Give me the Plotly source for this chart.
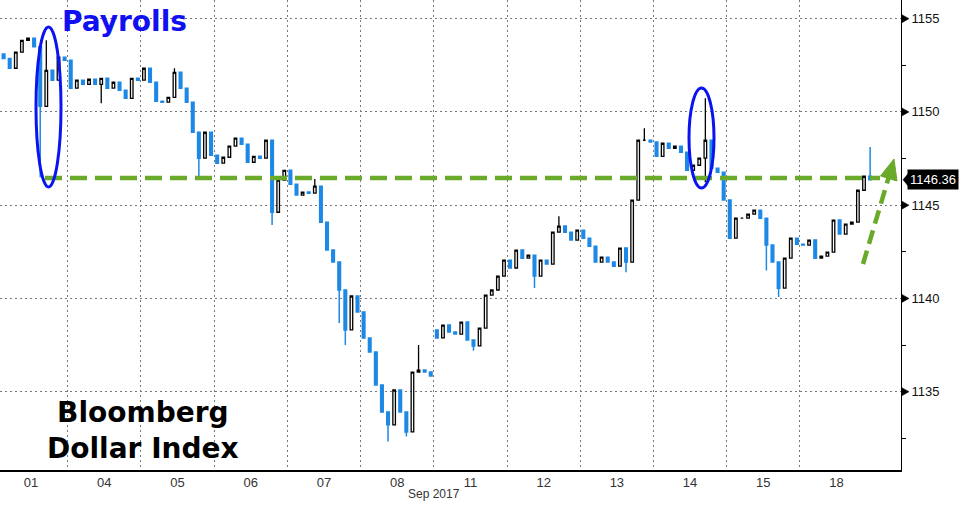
import plotly.graph_objects as go

# ---------------- data ----------------
days = ["01", "04", "05", "06", "07", "08", "11", "12", "13", "14", "15", "18"]
month_label = "Sep 2017"
slots_per_day = 12

# closes per intraday bar (first bar of Sep 01 is outside the view)
c01 = [1152.87, 1152.34, 1153.20, 1153.84, 1153.95, 1153.50, 1150.30, 1152.23, 1151.70, 1152.93, 1152.77]
c04 = [1151.27, 1151.70, 1151.48, 1151.75, 1151.48, 1151.80, 1151.27, 1151.59, 1151.16, 1150.73, 1151.80, 1151.70]
c05 = [1152.34, 1151.59, 1150.57, 1150.52, 1150.78, 1152.12, 1151.27, 1150.52, 1148.91, 1147.52, 1148.91, 1147.68]
c06 = [1147.25, 1147.57, 1148.16, 1148.59, 1148.27, 1147.30, 1147.62, 1147.52, 1148.48, 1144.62, 1146.34, 1146.87]
c07 = [1146.12, 1145.54, 1145.70, 1145.64, 1146.02, 1144.09, 1142.59, 1141.95, 1140.45, 1138.31, 1140.13, 1139.27]
c08 = [1137.88, 1137.13, 1135.36, 1133.91, 1133.22, 1135.09, 1133.91, 1132.84, 1136.05, 1136.16, 1136.05, 1135.84]
c11 = [1137.88, 1138.57, 1138.20, 1138.09, 1138.73, 1137.77, 1137.45, 1138.41, 1140.18, 1140.45, 1141.20, 1142.05]
c12 = [1141.63, 1142.59, 1142.16, 1142.32, 1141.20, 1142.05, 1141.84, 1143.55, 1143.88, 1143.55, 1143.13, 1143.66]
c13 = [1143.23, 1142.80, 1141.95, 1142.21, 1141.95, 1141.73, 1142.70, 1141.95, 1145.27, 1148.48, 1148.48, 1148.38]
c14 = [1147.62, 1148.32, 1148.05, 1148.16, 1147.84, 1146.87, 1147.14, 1147.52, 1148.48, 1146.98, 1146.77, 1145.27]
c15 = [1143.23, 1144.30, 1144.30, 1144.52, 1144.73, 1144.30, 1142.86, 1141.95, 1140.55, 1142.16, 1143.23, 1142.91]
c18 = [1142.86, 1143.13, 1142.16, 1142.27, 1142.48, 1144.20, 1143.45, 1143.98, 1144.09, 1145.80, 1146.55, 1146.36]
day_closes = [c01, c04, c05, c06, c07, c08, c11, c12, c13, c14, c15, c18]
first_slot = {"01": 1}
day_open = {"01": 1153.10, "11": 1138.30}

# notable wicks: (day, slot, high, low)
spike_day = ["01", "01", "04", "05", "05", "06", "07", "07", "07", "08", "08", "08", "11", "12", "12", "13", "13", "14", "15", "15", "18"]
spike_slot = [7, 8, 5, 5, 9, 9, 4, 8, 9, 4, 7, 9, 6, 4, 8, 7, 10, 8, 6, 8, 11]
spike_high = [None, 1153.84, None, 1152.34, None, None, 1146.40, 1141.60, None, None, None, 1137.50, None, None, 1144.40, None, 1149.12, 1150.73, None, None, 1148.12]
spike_low = [1146.50, None, 1150.46, None, 1146.55, 1143.93, None, 1138.68, 1137.50, 1132.33, 1132.60, None, 1137.20, 1140.56, None, 1141.40, None, 1146.23, 1141.50, 1140.07, None]

y_ticks = [1135, 1140, 1145, 1150, 1155]
last_value = 1146.36
support_level = 1146.45

# ---------------- build OHLC ----------------
xs, op, hi, lo, cl = [], [], [], [], []
index_of = {}
prev = None
for i, d in enumerate(days):
    start = first_slot.get(d, 0)
    for j, v in enumerate(day_closes[i]):
        s = start + j
        o = day_open[d] if (j == 0 and d in day_open) else (prev if prev is not None else v)
        index_of[(d, s)] = len(xs)
        xs.append(i + (s + 0.5) / slots_per_day)
        op.append(o)
        cl.append(v)
        hi.append(max(o, v))
        lo.append(min(o, v))
        prev = v
for d, s, h, l in zip(spike_day, spike_slot, spike_high, spike_low):
    k = index_of[(d, s)]
    if h is not None:
        hi[k] = max(hi[k], h)
    if l is not None:
        lo[k] = min(lo[k], l)

# ---------------- geometry ----------------
W, H = 962, 506
plot_w, plot_h = 901, 470
x_range = [0.076, 12.38]
y_range = [1130.8, 1156.0]


def px(xp):
    return xp / plot_w


def py(yp):
    return 1 - yp / plot_h


def vy(v):
    # value -> paper fraction on the y axis
    return (v - y_range[0]) / (y_range[1] - y_range[0])


BLUE_C = "#1e88e5"
GREEN = "#6aaa2a"

fig = go.Figure()
fig.add_trace(go.Candlestick(
    x=xs, open=op, high=hi, low=lo, close=cl,
    increasing=dict(line=dict(color="#000000", width=1.3), fillcolor="#ffffff"),
    decreasing=dict(line=dict(color=BLUE_C, width=1.5), fillcolor=BLUE_C),
    whiskerwidth=0, showlegend=False, hoverinfo="skip",
))

shapes = []
# right-axis tick triangles
hh = 4 / plot_h
for t in y_ticks:
    shapes.append(dict(type="path", xref="paper", yref="paper", layer="above",
                       path="M 1.001,%f L %f,%f L 1.001,%f Z" % (vy(t) + hh, 1 + 8 / plot_w, vy(t), vy(t) - hh),
                       fillcolor="#000000", line=dict(color="#000000", width=0.5)))
# pointer of the last-value label
hp = 6 / plot_h
shapes.append(dict(type="path", xref="paper", yref="paper", layer="above",
                   path="M %f,%f L %f,%f L %f,%f Z" % (1 + 2 / plot_w, vy(last_value),
                                                        1 + 7 / plot_w, vy(last_value) + hp,
                                                        1 + 7 / plot_w, vy(last_value) - hp),
                   fillcolor="#000000", line=dict(color="#000000", width=0.5)))
# support line
shapes.append(dict(type="line", xref="paper", yref="y", x0=px(45), x1=px(880),
                   y0=support_level, y1=support_level,
                   line=dict(color=GREEN, width=4.5, dash="17px,8px")))
# arrow shaft
shapes.append(dict(type="line", xref="paper", yref="paper",
                   x0=px(863), y0=py(264), x1=px(888.5), y1=py(178),
                   line=dict(color=GREEN, width=4.5, dash="14px,7px")))
# arrow head
shapes.append(dict(type="path", xref="paper", yref="paper",
                   path="M %f,%f L %f,%f L %f,%f Z" % (px(894), py(159), px(897), py(181), px(880.5), py(176)),
                   fillcolor=GREEN, line=dict(color=GREEN, width=1)))
# ellipses
shapes.append(dict(type="circle", xref="paper", yref="paper",
                   x0=px(36), x1=px(61), y0=py(187), y1=py(27),
                   line=dict(color="#0a14f0", width=3)))
shapes.append(dict(type="circle", xref="paper", yref="paper",
                   x0=px(689), x1=px(714), y0=py(188), y1=py(88),
                   line=dict(color="#0a14f0", width=3)))

annotations = [
    dict(text="<b>Payrolls</b>", xref="paper", yref="paper", x=px(124), y=py(21),
         showarrow=False, font=dict(family="DejaVu Sans", size=28, color="#1010f0"),
         xanchor="center", yanchor="middle"),
    dict(text="<b>Bloomberg<br>Dollar Index</b>", xref="paper", yref="paper", x=px(143), y=py(430),
         showarrow=False, font=dict(family="DejaVu Sans", size=28, color="#000000"),
         xanchor="center", yanchor="middle", align="center"),
    dict(text=month_label, xref="x", yref="paper", x=6, y=py(494),
         showarrow=False, font=dict(family="Liberation Sans, Arial", size=12, color="#333333"),
         xanchor="center", yanchor="middle"),
    dict(text=f"{last_value:.2f}", xref="paper", yref="y", x=1, y=last_value,
         xanchor="left", yanchor="middle", xshift=6, showarrow=False,
         bgcolor="#000000", borderpad=2,
         font=dict(family="Liberation Sans, Arial", size=13, color="#ffffff")),
]

fig.update_layout(
    width=W, height=H,
    margin=dict(l=0, r=W - plot_w, t=0, b=H - plot_h),
    paper_bgcolor="#ffffff", plot_bgcolor="#ffffff",
    font=dict(family="Liberation Sans, Arial", size=13, color="#333333"),
    shapes=shapes, annotations=annotations,
    showlegend=False, boxgap=0.4,
)
fig.update_xaxes(
    range=x_range, rangeslider=dict(visible=False),
    tickmode="array", tickvals=[i + 0.5 for i in range(len(days))], ticktext=days,
    ticks="", showgrid=False, zeroline=False,
    showline=True, linecolor="#000000", linewidth=1.5,
    tickfont=dict(size=13, color="#333333"),
    minor=dict(tickmode="array", tickvals=list(range(1, len(days))), ticks="",
               showgrid=True, gridcolor="#777777", gridwidth=1, griddash="2px,3px"),
)
fig.update_yaxes(
    side="right", range=y_range,
    tickmode="array", tickvals=y_ticks, ticktext=[str(t) for t in y_ticks],
    ticks="outside", ticklen=7, tickcolor="rgba(0,0,0,0)",
    showgrid=True, gridcolor="#777777", gridwidth=1, griddash="2px,3px",
    zeroline=False, showline=True, linecolor="#000000", linewidth=1,
    tickfont=dict(size=13, color="#111111"),
    minor=dict(tick0=1132.5, dtick=5, ticks="outside", ticklen=4, tickcolor="#000000", showgrid=False),
)

fig.write_html("out.html", config={"displayModeBar": False},
               post_script="document.body.style.margin='0';document.body.style.padding='0';")
